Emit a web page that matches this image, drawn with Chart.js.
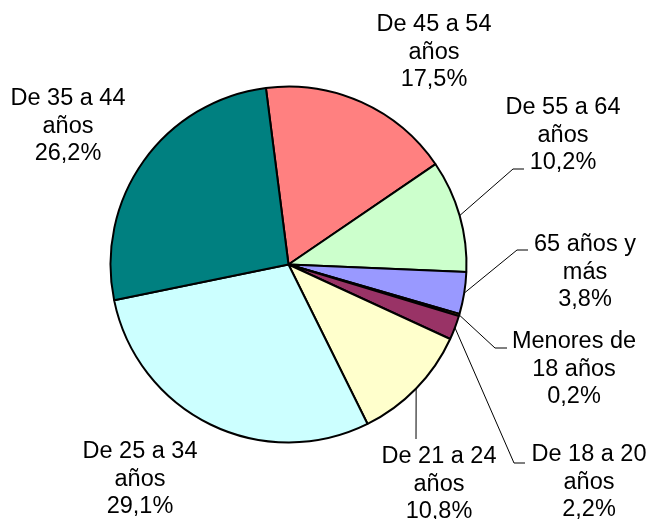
<!DOCTYPE html>
<html lang="es">
<head>
    <meta charset="UTF-8">
    <title>Distribución por edad</title>
    <script src="https://cdn.jsdelivr.net/npm/chart.js"></script>
    <style>
        body { margin: 0; background: #fff; }
    </style>
</head>
<body>
<canvas id="pieChart" width="651" height="519"></canvas>

<script>
    // categorias (cada una partida en lineas como en el original)
    const categories = [
        ['De 45 a 54', 'años'],
        ['De 55 a 64', 'años'],
        ['65 años y', 'más'],
        ['Menores de', '18 años'],
        ['De 18 a 20', 'años'],
        ['De 21 a 24', 'años'],
        ['De 25 a 34', 'años'],
        ['De 35 a 44', 'años']
    ];
    const percentages = [17.5, 10.2, 3.8, 0.2, 2.2, 10.8, 29.1, 26.2];
    const sliceColors = ['#FF8080', '#CCFFCC', '#9999FF', '#FF9900', '#993366', '#FFFFCC', '#CCFFFF', '#008080'];

    // donde va cada etiqueta (centro x, centro y de la primera linea)
    const labelAnchors = [
        [434, 25], [563, 108], [585, 245], [574, 342],
        [589, 455], [439, 457], [140, 452], [68, 99]
    ];
    // quiebres de las lineas guia (null = sin linea)
    const leaderPoints = [
        null,
        [[513, 169], [524, 169]],
        [[517, 250], [528, 250]],
        [[495, 348], [507, 348]],
        [[514, 463], [525, 463]],
        [[416, 439]],
        null,
        null
    ];

    const pieLabels = {
        id: 'pieLabels',
        afterDatasetsDraw(chart) {
            const ctx = chart.ctx;
            const arcs = chart.getDatasetMeta(0).data;
            ctx.save();
            ctx.strokeStyle = '#000';
            ctx.lineWidth = 1;
            arcs.forEach((arc, i) => {
                const pts = leaderPoints[i];
                if (!pts) return;
                const mid = (arc.startAngle + arc.endAngle) / 2;
                ctx.beginPath();
                ctx.moveTo(arc.x + Math.cos(mid) * arc.outerRadius, arc.y + Math.sin(mid) * arc.outerRadius);
                pts.forEach(p => ctx.lineTo(p[0], p[1]));
                ctx.stroke();
            });

            ctx.fillStyle = '#000';
            ctx.font = '23.5px "Liberation Sans", Arial, sans-serif';
            ctx.textAlign = 'center';
            ctx.textBaseline = 'middle';
            categories.forEach((lines, i) => {
                const all = lines.concat([percentages[i].toFixed(1).replace('.', ',') + '%']);
                const [cx, cy] = labelAnchors[i];
                all.forEach((t, j) => ctx.fillText(t, cx, cy + j * 27.5));
            });
            ctx.restore();
        }
    };

    new Chart(document.getElementById('pieChart'), {
        type: 'pie',
        data: {
            labels: categories,
            datasets: [{
                data: percentages,
                backgroundColor: sliceColors,
                borderColor: '#000',
                borderWidth: 2,
                hoverOffset: 0
            }]
        },
        options: {
            responsive: false,
            animation: false,
            rotation: -7.3,
            radius: 178,
            layout: { padding: { left: 0, right: 74, top: 10, bottom: 0 } },
            plugins: {
                legend: { display: false },
                tooltip: { enabled: false }
            }
        },
        plugins: [pieLabels]
    });
</script>
</body>
</html>
